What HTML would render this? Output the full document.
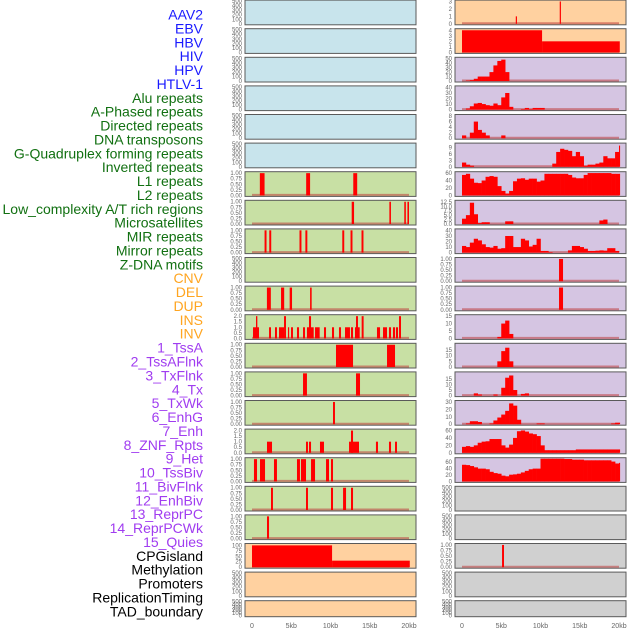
<!DOCTYPE html>
<html><head><meta charset="utf-8"><style>
html,body{margin:0;padding:0;background:#fff;}
svg{display:block;font-family:"Liberation Sans",sans-serif;}
</style></head><body>
<svg id="chart" width="630" height="630" viewBox="0 0 630 630" xmlns="http://www.w3.org/2000/svg"></svg>
<script>
// ---------- data ----------
const trackLabels = ["AAV2","EBV","HBV","HIV","HPV","HTLV-1","Alu repeats","A-Phased repeats","Directed repeats","DNA transposons","G-Quadruplex forming repeats","Inverted repeats","L1 repeats","L2 repeats","Low_complexity A/T rich regions","Microsatellites","MIR repeats","Mirror repeats","Z-DNA motifs","CNV","DEL","DUP","INS","INV","1_TssA","2_TssAFlnk","3_TxFlnk","4_Tx","5_TxWk","6_EnhG","7_Enh","8_ZNF_Rpts","9_Het","10_TssBiv","11_BivFlnk","12_EnhBiv","13_ReprPC","14_ReprPCWk","15_Quies","CPGisland","Methylation","Promoters","ReplicationTiming","TAD_boundary"];
const labelGroups = ["virus","virus","virus","virus","virus","virus","repeat","repeat","repeat","repeat","repeat","repeat","repeat","repeat","repeat","repeat","repeat","repeat","repeat","sv","sv","sv","sv","sv","chrom","chrom","chrom","chrom","chrom","chrom","chrom","chrom","chrom","chrom","chrom","chrom","chrom","chrom","chrom","other","other","other","other","other"];
const xTickValues = [0,5,10,15,20];
const xTickLabels = ["0","5kb","10kb","15kb","20kb"];

// left column segments [startKb, endKb, value]
const L6 = [[1.0,1.6,1],[6.9,7.4,1],[12.9,13.4,1]];
const L7 = [[12.7,13.0,1],[17.5,17.7,1],[19.4,19.6,1],[19.8,20.0,1]];
const L8 = [[1.6,1.85,1],[2.2,2.45,1],[6.05,6.3,1],[6.8,7.05,1],[11.5,11.75,1],[12.55,12.8,1],[13.95,14.2,1]];
const L10 = [[1.9,2.4,1],[3.7,4.1,1],[4.8,5.1,1],[7.4,7.6,1]];
const L11 = [[0.13,0.89,1],[0.51,0.68,2],[2.17,2.42,1],[2.93,3.18,1],[3.44,4.08,1],[4.08,4.33,2],[4.58,4.71,1],[4.97,5.22,1],[5.73,5.99,1],[6.5,6.75,1],[7.0,7.86,1],[7.26,7.52,2],[8.03,8.62,1],[9.17,9.43,1],[10.19,10.45,1],[11.08,11.34,1],[11.85,12.48,1],[12.61,12.87,1],[13.12,13.72,1],[13.25,13.5,2],[13.97,14.22,2],[15.92,16.31,1],[16.69,17.2,1],[17.45,17.71,1],[17.96,18.22,1],[18.34,18.6,1],[18.73,18.98,2]];
const L12 = [[10.7,12.87,1],[17.2,18.22,1]];
const L13 = [[6.5,7.0,1],[13.25,13.76,1]];
const L14 = [[10.32,10.57,1]];
const L15 = [[1.91,2.55,1],[6.88,7.13,1],[7.26,7.52,1],[8.66,9.17,1],[12.36,13.63,1],[12.61,12.87,2],[15.79,16.05,1],[17.45,17.71,1],[18.22,18.47,1]];
const L16 = [[0.25,0.64,1],[1.02,1.66,1],[2.8,3.18,1],[5.73,6.11,1],[6.24,6.88,1],[7.52,8.03,1],[9.43,9.81,1],[10.06,10.32,1]];
const L17 = [[2.42,2.67,1],[6.88,7.13,1],[10.06,10.32,1],[11.6,11.98,1],[12.61,12.87,1]];
const L18 = [[1.91,2.17,1]];
const L19 = [[0,10.2,100],[10.2,20.1,30]];
// right column segments
const R0 = [[6.85,7.0,1],[12.45,12.6,3]];
const R1 = [[0,10.2,4],[10.2,20.1,2]];
const R9 = [[12.36,12.87,1]];
const R10 = [[12.36,12.87,1]];
const R19 = [[5.1,5.35,1]];
// right column histograms, 0.5kb bins
const R2 = [0,1,2,5,10,10,10,20,35,45,48,20,0,0,0,0,0,0,0,0,0,0,0,0,0,0,0,0,0,0,0,0,0,0,0,0,0,0,0,0,0];
const R3 = [0,2,6,11,12,10,8,7,11,8,22,30,5,0,0,1,3,1,3,3,3,0,0,0,0,0,0,0,0,0,0,0,0,0,0,0,0,0,0,0,0];
const R4 = [1,0,2,6,3,2,1,0,0,0,1,0,0,0,0,0,0,0,0,0,0,0,0,0,0,0,0,0,0,0,0,0,0,0,0,0,0,0,0,0,0];
const R5 = [2,1,0.5,0,0,0,0,0,0,0,0,0,0,0,0,0,0,0,0,0,0,0,0,1.5,7,8.5,8,7.5,5,7,5,0.5,1,1,1.5,2,5,4,4,7,10];
const R6 = [55,58,45,34,33,40,50,52,50,25,12,5,12,38,45,46,42,45,45,37,40,58,58,58,58,58,58,55,48,46,46,55,60,60,60,60,60,60,58,58,58];
const R7 = [3,5,12,5.5,0.5,1,1,0,0,0,0,1.5,1.5,0,0,0,0,0,0,0,0,0,0,0,0,0,0,0,0,0,0,0,0,0,0,2,2.5,0,0,0,0];
const R8 = [12,10,18,25,22,15,10,9,12,7,8,30,30,10,10,25,22,11,14,25,3,3,1,0,0,0,0,4,12,12,10,7,3,3,3.5,4,3.5,8,8,3,0];
const R11 = [0,0,0,0,0,0,0,0,0,1,10,12,3,0,0,0,0,0,0,0,0,0,0,0,0,0,0,0,0,0,0,0,0,0,0,0,0,0,0,0,0];
const R12 = [0,0,0,0,0,0,0,0,0,5,14,17,5,0,0,0,0,0,0,0,0,0,0,0,0,0,0,0,0,0,0,0,0,0,0,0,0,0,0,0,0];
const R13 = [0,0,0,2,1,0,0,0,1,0,7,16,18,5,0,1.5,2,0,0,0,0,0,0,0,0,0,0,0,0,0,0,0,0,0,0,0,0,0,0,0,0];
const R14 = [0,1,4,4,3,0,0,1,5,9,13,18,28,25,6,0,0,0,0,1,1,0,0,0,0,0,0,0,0,0,0,0,0,0,0,0,0,0,1,2,2];
const R15 = [16,18,16,20,27,30,31,37,37,37,20,14,22,40,58,60,57,52,50,45,20,7,7,7,7,7,7,7,7,9,9,9,9,9,9,9,9,9,9,9,9];
const R16 = [52,51,48,44,40,40,38,30,26,24,18,16,21,22,24,28,33,38,40,40,71,71,71,71,71,71,70,70,68,68,68,66,66,66,66,66,66,66,62,56,58];

// ---------- layout ----------
const SVGNS = "http://www.w3.org/2000/svg";
const svg = document.getElementById("chart");
const groupColor = {virus:"#1a1aff",repeat:"#117011",sv:"#ffa520",chrom:"#a03cf0",other:"#000"};
const BG = {blue:"#c8e4ec",green:"#c8e0a4",peach:"#ffd1a0",lav:"#d5c5e2",gray:"#d0d0d0"};
const COLX = [245,455];
const PW = 171;
const KBPX = 7.85;
function rowTop(i){return 0.1+28.6*i;}
function rowH(i){return i===21?16:24.7;}
function xS(col,kb){return COLX[col]+7+kb*KBPX;}
function mk(tag,attrs,parent){const e=document.createElementNS(SVGNS,tag);for(const k in attrs)e.setAttribute(k,attrs[k]);(parent||svg).appendChild(e);return e;}

const T500=[0,100,200,300,400,500], T01=[0,0.25,0.5,0.75,1], T02=[0,0.5,1,1.5,2];
function cfg(bg,ymax,ticks,dec,segs,hist){return {bg,ymax,ticks,dec,segs,hist};}
const leftCfg = [];
for(let i=0;i<6;i++) leftCfg.push(cfg("blue",500,T500,0,null,null));
leftCfg.push(cfg("green",1.02,T01,2,L6,null));
leftCfg.push(cfg("green",1.02,T01,2,L7,null));
leftCfg.push(cfg("green",1.02,T01,2,L8,null));
leftCfg.push(cfg("green",500,T500,0,null,null));
leftCfg.push(cfg("green",1.02,T01,2,L10,null));
leftCfg.push(cfg("green",2.04,T02,1,L11,null));
leftCfg.push(cfg("green",1.02,T01,2,L12,null));
leftCfg.push(cfg("green",1.02,T01,2,L13,null));
leftCfg.push(cfg("green",1.02,T01,2,L14,null));
leftCfg.push(cfg("green",2.04,T02,1,L15,null));
leftCfg.push(cfg("green",1.02,T01,2,L16,null));
leftCfg.push(cfg("green",1.02,T01,2,L17,null));
leftCfg.push(cfg("green",1.02,T01,2,L18,null));
leftCfg.push(cfg("peach",104,[0,25,50,75,100],0,L19,null));
leftCfg.push(cfg("peach",500,T500,0,null,null));
leftCfg.push(cfg("peach",500,T500,0,null,null));
const rightCfg = [
 cfg("peach",3.05,[0,1,2,3],0,R0,null),
 cfg("peach",4.1,[0,1,2,3,4],0,R1,null),
 cfg("lav",51,[0,10,20,30,40,50],0,null,R2),
 cfg("lav",41,[0,10,20,30,40],0,null,R3),
 cfg("lav",8.2,[0,2,4,6,8],0,null,R4),
 cfg("lav",10.7,[0,3,6,9],0,null,R5),
 cfg("lav",61,[0,20,40,60],0,null,R6),
 cfg("lav",12.8,[0,2.5,5,7.5,10,12.5],1,null,R7),
 cfg("lav",41,[0,10,20,30,40],0,null,R8),
 cfg("lav",1.02,T01,2,R9,null),
 cfg("lav",1.02,T01,2,R10,null),
 cfg("lav",15.3,[0,5,10,15],0,null,R11),
 cfg("lav",20,[0,5,10,15],0,null,R12),
 cfg("lav",20.3,[0,5,10,15],0,null,R13),
 cfg("lav",30.6,[0,10,20,30],0,null,R14),
 cfg("lav",61,[0,20,40,60],0,null,R15),
 cfg("lav",71,[0,20,40,60],0,null,R16),
 cfg("gray",500,T500,0,null,null),
 cfg("gray",500,T500,0,null,null),
 cfg("gray",1.02,T01,2,R19,null),
 cfg("gray",500,T500,0,null,null),
 cfg("gray",500,T500,0,null,null)
];

// ---------- labels ----------
trackLabels.forEach((t,i)=>{
  const el=mk("text",{x:203,y:(14.5+13.88*i+5).toFixed(1),"text-anchor":"end","font-size":"14",fill:groupColor[labelGroups[i]]});
  el.textContent=t;
  
  
});

// ---------- panels ----------
function drawPanel(col,row,c){
  const top=rowTop(row), h=rowH(row), x0=COLX[col];
  const g=mk("g",{});
  
  
  const r=mk("rect",{x:x0,y:top,width:PW,height:h,fill:BG[c.bg],stroke:"#5a5a5a","stroke-width":1},g);
  
  
  const y0=top+h-1, span=h-2;
  const yS=v=>y0-v/c.ymax*span;
  if(c.segs||c.hist){
    const bl=mk("line",{x1:xS(col,0),x2:xS(col,20),y1:y0-0.5,y2:y0-0.5,stroke:"rgba(190,60,60,0.55)","stroke-width":2},g);
    
    
  }
  if(c.segs){
    c.segs.forEach(s=>{
      const yv=Math.max(yS(s[2]),top+0.5);
      const b=mk("rect",{x:xS(col,s[0]),y:yv,width:Math.max(1.2,(s[1]-s[0])*KBPX),height:y0-yv,fill:"#ff0000"},g);
      
      
    });
  }
  if(c.hist){
    c.hist.forEach((v,k)=>{
      if(v<=0)return;
      const a=k*0.5, e=Math.min(a+0.5,20.1);
      const yv=Math.max(yS(v),top+0.5);
      const b=mk("rect",{x:xS(col,a),y:yv,width:(e-a)*KBPX+0.3,height:y0-yv,fill:"#ff0000"},g);
      
      
    });
  }
  c.ticks.forEach(t=>{
    const tx=mk("text",{x:x0-3,y:(yS(t)+2).toFixed(1),"text-anchor":"end","font-size":"6",fill:"#666"},g);
    tx.textContent=t.toFixed(c.dec);
    
    
  });
}
leftCfg.forEach((c,i)=>drawPanel(0,i,c));
rightCfg.forEach((c,i)=>drawPanel(1,i,c));

// ---------- x axes ----------
[0,1].forEach(col=>{
  xTickValues.forEach((v,k)=>{
    const t=mk("text",{x:xS(col,v),y:628,"text-anchor":"middle","font-size":"7",fill:"#666"});
    t.textContent=xTickLabels[k];
    
    
  });
});
</script>
</body></html>
